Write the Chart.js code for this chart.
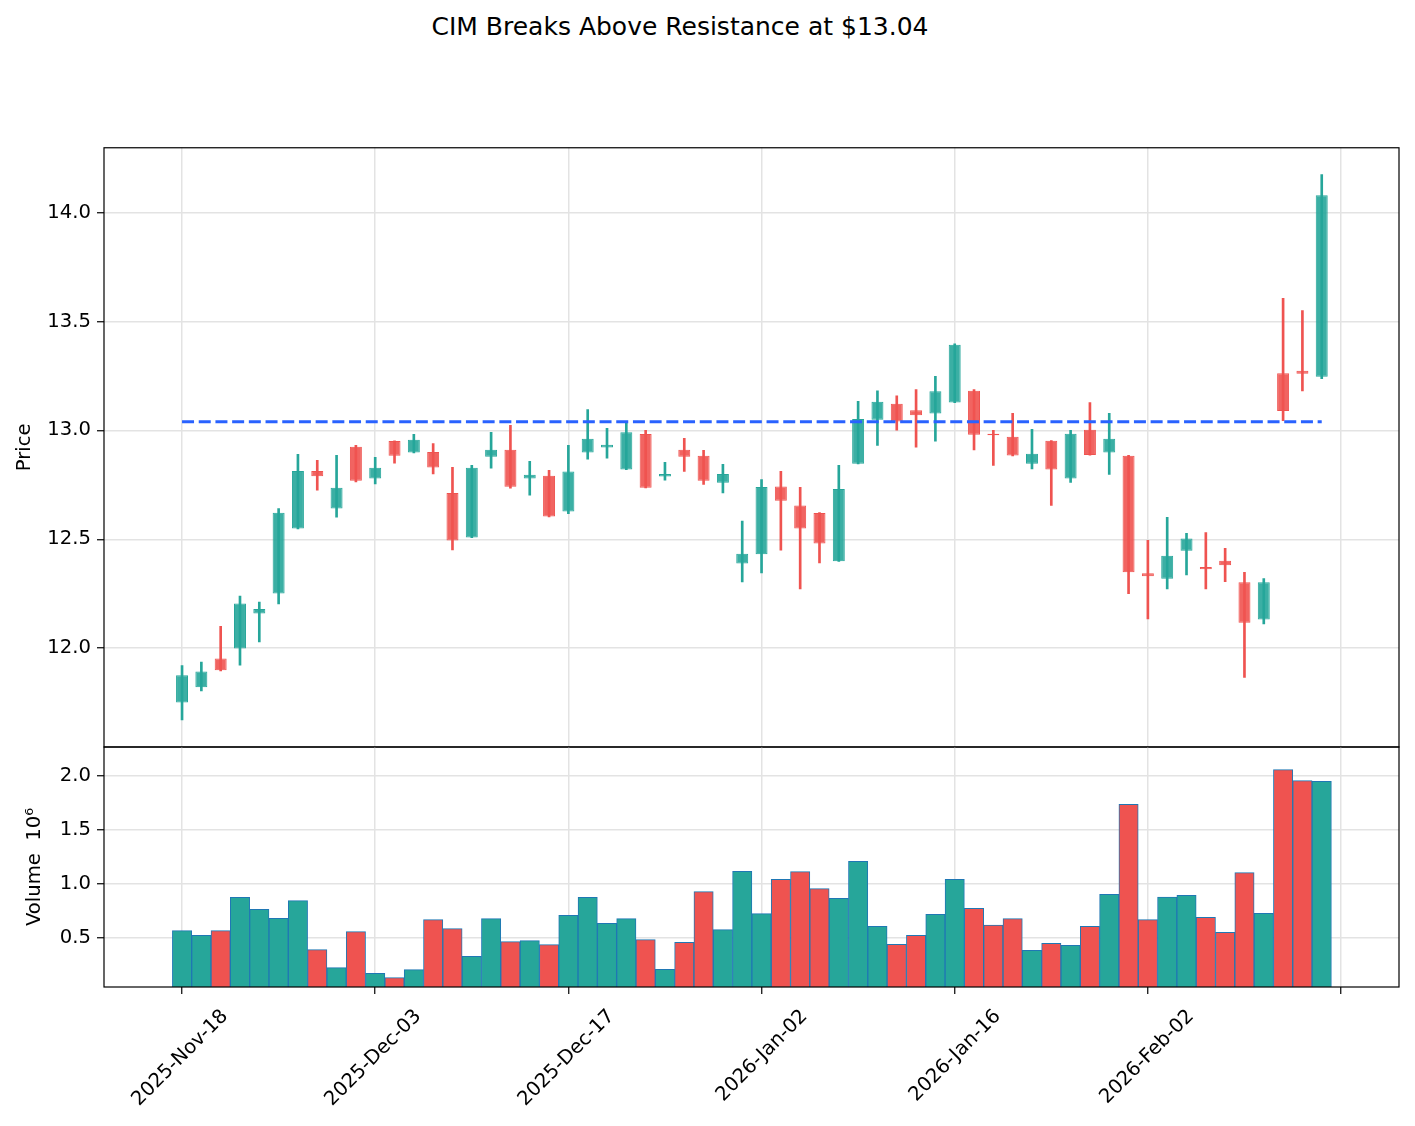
<!DOCTYPE html>
<html>
<head>
<meta charset="utf-8">
<script src="https://cdn.jsdelivr.net/npm/chart.js@4.4.1/dist/chart.umd.min.js"></script>
<style>
body { margin: 0; background: #fff; width: 1415px; height: 1126px; position: relative; overflow: hidden; }
#title { position: absolute; left: 0; width: 1360px; top: 13px; line-height: 28px; text-align: center;
         font-family: 'DejaVu Sans'; font-size: 25px; color: #000; }
#priceChart { position: absolute; left: 0; top: 130px; }
#volChart { position: absolute; left: 0; top: 727px; }
</style>
</head>
<body>
<div id="title">CIM Breaks Above Resistance at $13.04</div>
<canvas id="priceChart" width="1415" height="636"></canvas>
<canvas id="volChart" width="1415" height="399"></canvas>
<script>
// trading days (one candle each)
const dates = [
  '2025-Nov-18','2025-Nov-19','2025-Nov-20','2025-Nov-21','2025-Nov-24','2025-Nov-25','2025-Nov-26','2025-Nov-28',
  '2025-Dec-01','2025-Dec-02','2025-Dec-03','2025-Dec-04','2025-Dec-05','2025-Dec-08','2025-Dec-09','2025-Dec-10',
  '2025-Dec-11','2025-Dec-12','2025-Dec-15','2025-Dec-16','2025-Dec-17','2025-Dec-18','2025-Dec-19','2025-Dec-22',
  '2025-Dec-23','2025-Dec-24','2025-Dec-26','2025-Dec-29','2025-Dec-30','2025-Dec-31',
  '2026-Jan-02','2026-Jan-05','2026-Jan-06','2026-Jan-07','2026-Jan-08','2026-Jan-09','2026-Jan-12','2026-Jan-13',
  '2026-Jan-14','2026-Jan-15','2026-Jan-16','2026-Jan-20','2026-Jan-21','2026-Jan-22','2026-Jan-23','2026-Jan-26',
  '2026-Jan-27','2026-Jan-28','2026-Jan-29','2026-Jan-30',
  '2026-Feb-02','2026-Feb-03','2026-Feb-04','2026-Feb-05','2026-Feb-06','2026-Feb-09','2026-Feb-10','2026-Feb-11',
  '2026-Feb-12','2026-Feb-13'
];
const opens = [11.75, 11.82, 11.953, 11.998, 12.159, 12.251, 12.549, 12.813, 12.641, 12.925,
  12.779, 12.951, 12.898, 12.901, 12.713, 12.508, 12.879, 12.911, 12.779, 12.792,
  12.627, 12.898, 12.921, 12.82, 12.983, 12.788, 12.911, 12.884, 12.76, 12.389,
  12.431, 12.742, 12.655, 12.621, 12.399, 12.847, 13.049, 13.122, 13.093, 13.078,
  13.128, 13.182, 12.985, 12.971, 12.847, 12.953, 12.779, 13.003, 12.898, 12.884,
  12.344, 12.319, 12.447, 12.373, 12.401, 12.303, 12.131, 13.263, 13.274, 13.246];
const highs = [11.92, 11.936, 12.10, 12.239, 12.211, 12.641, 12.89, 12.862, 12.885, 12.931,
  12.876, 12.952, 12.982, 12.94, 12.83, 12.839, 12.991, 13.023, 12.858, 12.817,
  12.931, 13.096, 13.009, 13.04, 13.0, 12.853, 12.963, 12.908, 12.844, 12.583,
  12.774, 12.812, 12.739, 12.622, 12.839, 13.133, 13.182, 13.159, 13.187, 13.248,
  13.398, 13.188, 13.0, 13.078, 13.005, 12.953, 13.0, 13.128, 13.078, 12.886,
  12.495, 12.601, 12.527, 12.531, 12.458, 12.348, 12.319, 13.606, 13.55, 14.175];
const lows = [11.67, 11.804, 11.895, 11.922, 12.029, 12.203, 12.548, 12.725, 12.602, 12.763,
  12.754, 12.85, 12.897, 12.80, 12.451, 12.507, 12.827, 12.735, 12.702, 12.603,
  12.618, 12.868, 12.873, 12.82, 12.736, 12.771, 12.812, 12.752, 12.713, 12.304,
  12.345, 12.45, 12.272, 12.391, 12.398, 12.846, 12.931, 13.001, 12.923, 12.951,
  13.127, 12.91, 12.839, 12.883, 12.823, 12.656, 12.761, 12.886, 12.798, 12.25,
  12.134, 12.272, 12.336, 12.272, 12.305, 11.866, 12.111, 13.045, 13.181, 13.238];
const closes = [11.875, 11.893, 11.898, 12.205, 12.18, 12.622, 12.813, 12.789, 12.737, 12.769,
  12.829, 12.884, 12.957, 12.83, 12.494, 12.829, 12.911, 12.741, 12.796, 12.604,
  12.811, 12.962, 12.934, 12.992, 12.737, 12.80, 12.879, 12.769, 12.80, 12.433,
  12.74, 12.677, 12.549, 12.48, 12.731, 13.052, 13.132, 13.041, 13.069, 13.18,
  13.393, 12.98, 12.978, 12.885, 12.893, 12.82, 12.985, 12.887, 12.962, 12.349,
  12.33, 12.424, 12.503, 12.362, 12.381, 12.117, 12.303, 13.089, 13.26, 14.08];
// volume in millions
const volumes = [0.568, 0.525, 0.568, 0.877, 0.765, 0.682, 0.846, 0.392, 0.225, 0.559,
  0.173, 0.133, 0.207, 0.670, 0.586, 0.330, 0.679, 0.466, 0.475, 0.438,
  0.710, 0.877, 0.636, 0.679, 0.485, 0.210, 0.460, 0.929, 0.577, 1.117,
  0.725, 1.043, 1.114, 0.957, 0.867, 1.210, 0.608, 0.441, 0.525, 0.719,
  1.043, 0.775, 0.620, 0.679, 0.386, 0.451, 0.432, 0.608, 0.904, 1.738,
  0.670, 0.880, 0.895, 0.691, 0.552, 1.105, 0.728, 2.059, 1.957, 1.951];
const resistance = 13.04;
const priceTicks = [12.0, 12.5, 13.0, 13.5, 14.0];
const volumeTicks = [0.5, 1.0, 1.5, 2.0];
const xTickIdx = [0, 10, 20, 30, 40, 50, 60];

const GREEN = '#26a69a', RED = '#ef5350';
const up = closes.map((c, i) => c >= opens[i]);
const solid = up.map(u => u ? GREEN : RED);
const faded = up.map(u => u ? 'rgba(38,166,154,0.9)' : 'rgba(239,83,80,0.9)');

Chart.defaults.font.family = 'DejaVu Sans';
Chart.defaults.font.size = 19.6;
Chart.defaults.color = '#000';

const GRID = '#e3e3e3';
const X_MIN = -4.04, X_MAX = 63.0;

// black box around the plot area, like the axes spines
const frame = {
  id: 'frame',
  afterDraw(chart) {
    const { ctx, chartArea: a } = chart;
    ctx.save();
    ctx.strokeStyle = '#000';
    ctx.lineWidth = 1.2;
    ctx.strokeRect(a.left, a.top, a.right - a.left, a.bottom - a.top);
    ctx.restore();
  }
};

function yAxis(min, max, ticks, label, titlePad) {
  return {
    type: 'linear', min: min, max: max, beginAtZero: false,
    afterBuildTicks: s => { s.ticks = ticks.map(v => ({ value: v })); },
    afterFit: s => { s.width = 104; },
    grid: { color: GRID, lineWidth: 1.5, tickColor: '#000', tickLength: 7, tickWidth: 1.2 },
    border: { display: false },
    ticks: { padding: 6, callback: v => v.toFixed(1) },
    title: { display: true, text: label, padding: { top: titlePad, bottom: 0 } }
  };
}

new Chart(document.getElementById('priceChart'), {
  type: 'bar',
  data: {
    datasets: [
      {
        type: 'line',
        data: [{ x: 0, y: resistance }, { x: dates.length - 1, y: resistance }],
        borderColor: '#2962ff', borderWidth: 3, borderDash: [12, 4.7],
        pointRadius: 0, order: 0
      },
      {
        data: opens.map((o, i) => ({ x: i, y: [o, closes[i]] })),
        backgroundColor: faded, borderColor: solid, borderWidth: 1, borderSkipped: false,
        barPercentage: 0.62, categoryPercentage: 1, grouped: false, order: 1
      },
      {
        data: lows.map((l, i) => ({ x: i, y: [l, highs[i]] })),
        backgroundColor: solid, barThickness: 2, grouped: false, order: 2
      }
    ]
  },
  options: {
    responsive: false, animation: false,
    layout: { padding: { top: 17, bottom: 19, left: 0, right: 16 } },
    plugins: { legend: { display: false }, tooltip: { enabled: false } },
    scales: {
      x: {
        type: 'linear', min: X_MIN, max: X_MAX, offset: false,
        afterBuildTicks: s => { s.ticks = xTickIdx.map(v => ({ value: v })); },
        afterFit: s => { s.height = 0; },
        grid: { color: GRID, lineWidth: 1.5, drawTicks: false, offset: false },
        border: { display: false },
        ticks: { display: false }
      },
      y: yAxis(11.546, 14.298, priceTicks, 'Price', 13)
    }
  },
  plugins: [frame]
});

new Chart(document.getElementById('volChart'), {
  type: 'bar',
  data: {
    datasets: [{
      data: volumes.map((v, i) => ({ x: i, y: v })),
      backgroundColor: solid, borderColor: '#1f77b4', borderWidth: 1, borderSkipped: false,
      barPercentage: 1, categoryPercentage: 1
    }]
  },
  options: {
    responsive: false, animation: false,
    layout: { padding: { top: 20, bottom: 0, left: 0, right: 16 } },
    plugins: { legend: { display: false }, tooltip: { enabled: false } },
    scales: {
      x: {
        type: 'linear', min: X_MIN, max: X_MAX, offset: false,
        afterBuildTicks: s => { s.ticks = xTickIdx.map(v => ({ value: v })); },
        afterFit: s => { s.height = 139; },
        grid: { color: GRID, lineWidth: 1.5, offset: false, tickColor: '#000', tickLength: 7, tickWidth: 1.2 },
        border: { display: false },
        ticks: {
          autoSkip: false, minRotation: 45, maxRotation: 45, labelOffset: 43, padding: 11,
          callback: v => dates[v] || ''
        }
      },
      y: yAxis(0.046, 2.269, volumeTicks, 'Volume  10\u2076', 23)
    }
  },
  plugins: [frame]
});
</script>
</body>
</html>
